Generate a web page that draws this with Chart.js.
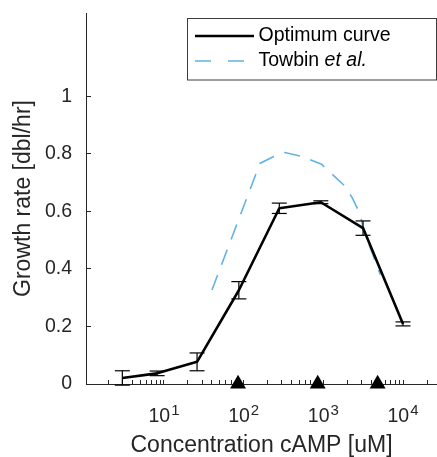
<!DOCTYPE html>
<html>
<head>
<meta charset="utf-8">
<script src="https://cdn.jsdelivr.net/npm/chart.js@4.4.1/dist/chart.umd.min.js"></script>
<style>
  html, body { margin: 0; padding: 0; background: #fff; }
  #wrap { position: relative; width: 437px; height: 457px; }
</style>
</head>
<body>
<div id="wrap"><canvas id="growthChart"></canvas></div>
<script>
/* ---------- data ---------- */
const concUM = [3, 8.2, 26, 87, 280, 930, 3150, 10000];
const growthRate = [0.021, 0.037, 0.077, 0.326, 0.611, 0.632, 0.542, 0.209];
const growthErr = [0.025, 0.008, 0.031, 0.030, 0.018, 0.005, 0.025, 0.007];

const towbinConc = [40, 160, 235, 330, 560, 950, 1800, 2300, 2900, 3200, 5200];
const towbinRate = [0.327, 0.767, 0.79, 0.805, 0.79, 0.764, 0.692, 0.648, 0.59, 0.535, 0.38];

const markerConc = [85, 850, 4800];

const yTickVals = [0, 0.2, 0.4, 0.6, 0.8, 1];
const xLabelPowers = [1, 2, 3, 4];

/* ---------- style ---------- */
const FONT = '"Liberation Sans", Arial, Helvetica, sans-serif';
const INK = "#262626";
const BLUE = "#62b2e4";
const DASH = [16, 11];
const LEGEND_DASH = [16, 17];

const pts = (xs, ys) => xs.map((x, i) => ({ x, y: ys[i] }));

/* ---------- datasets ---------- */
const errDatasets = concUM.map((x, i) => ({
  data: [
    { x, y: growthRate[i] - growthErr[i] },
    { x, y: growthRate[i] + growthErr[i] },
  ],
  borderColor: "#000", borderWidth: 1.2,
  pointStyle: "line", pointRadius: 7.5, pointHoverRadius: 7.5,
  pointBorderColor: "#000", pointBorderWidth: 1.2,
  clip: false,
}));

const datasets = [
  {
    label: "markers", data: markerConc.map((x) => ({ x, y: 0 })),
    showLine: false, pointStyle: "triangle", pointRadius: 9.2, pointHoverRadius: 9.2,
    backgroundColor: "#000", borderColor: "#000", pointBorderWidth: 0, clip: false,
  },
  {
    label: "Optimum curve", data: pts(concUM, growthRate),
    borderColor: "#000", borderWidth: 2.6, pointRadius: 0, tension: 0,
    borderJoinStyle: "round",
  },
  ...errDatasets,
  {
    label: "Towbin et al.", data: pts(towbinConc, towbinRate),
    borderColor: BLUE, borderWidth: 1.6, borderDash: DASH, pointRadius: 0, tension: 0,
  },
];

/* ---------- plugins ---------- */
// 10^n labels under the log axis, drawn with a raised exponent
const decadeLabels = {
  id: "decadeLabels",
  afterDraw(chart) {
    const { ctx } = chart;
    const x = chart.scales.x;
    ctx.save();
    ctx.fillStyle = INK;
    ctx.textAlign = "left";
    ctx.textBaseline = "alphabetic";
    xLabelPowers.forEach((p) => {
      const px = x.getPixelForValue(Math.pow(10, p));
      ctx.font = `19.5px ${FONT}`;
      const wBase = ctx.measureText("10").width;
      ctx.font = `15px ${FONT}`;
      const wExp = ctx.measureText(String(p)).width;
      const left = px - (wBase + 1 + wExp) / 2;
      ctx.font = `19.5px ${FONT}`;
      ctx.fillText("10", left, x.top + 37.5);
      ctx.font = `15px ${FONT}`;
      ctx.fillText(String(p), left + wBase + 1, x.top + 30.5);
    });
    ctx.restore();
  },
};

// boxed legend in the top right, with italic "et al."
const boxLegend = {
  id: "boxLegend",
  afterDraw(chart) {
    const { ctx, chartArea } = chart;
    const w = 249, h = 61.5;
    const bx = chartArea.right - w - 0.5;
    const by = chartArea.top + 5.5;
    ctx.save();
    ctx.fillStyle = "#fff";
    ctx.fillRect(bx, by, w, h);
    ctx.strokeStyle = "#3c3c3c";
    ctx.lineWidth = 1;
    ctx.strokeRect(bx, by, w, h);

    const lx0 = bx + 7.5, lx1 = bx + 66.5, tx = bx + 71;
    const y1 = by + 17.5, y2 = by + 42.5;

    ctx.strokeStyle = "#000";
    ctx.lineWidth = 2.6;
    ctx.beginPath(); ctx.moveTo(lx0, y1); ctx.lineTo(lx1, y1); ctx.stroke();

    ctx.strokeStyle = BLUE;
    ctx.lineWidth = 1.6;
    ctx.setLineDash(LEGEND_DASH);
    ctx.beginPath(); ctx.moveTo(lx0, y2); ctx.lineTo(lx1, y2); ctx.stroke();
    ctx.setLineDash([]);

    ctx.fillStyle = "#000";
    ctx.textBaseline = "middle";
    ctx.textAlign = "left";
    ctx.font = `19.5px ${FONT}`;
    ctx.fillText("Optimum curve", tx, y1);
    const head = "Towbin ";
    ctx.fillText(head, tx, y2);
    const wHead = ctx.measureText(head).width;
    ctx.font = `italic 19.5px ${FONT}`;
    ctx.fillText("et al.", tx + wHead, y2);
    ctx.restore();
  },
};

/* ---------- chart ---------- */
new Chart(document.getElementById("growthChart"), {
  type: "line",
  data: { datasets },
  options: {
    responsive: true, maintainAspectRatio: false, animation: false,
    layout: { autoPadding: false, padding: { top: 13, right: 0, bottom: 0, left: 0 } },
    plugins: { legend: { display: false }, tooltip: { enabled: false } },
    events: [],
    scales: {
      x: {
        type: "logarithmic", min: 1.05, max: 26700,
        afterBuildTicks: (scale) => {
          const ticks = [];
          for (let p = 0; p <= 4; p++) {
            for (let m = 1; m <= 9; m++) {
              const v = m * Math.pow(10, p);
              if (v >= scale.min && v <= scale.max) ticks.push({ value: v });
            }
          }
          scale.ticks = ticks;
        },
        afterFit: (scale) => {
          scale.height = 73;
          scale.paddingLeft = 0; scale.paddingRight = 0;
        },
        ticks: { callback: () => "", autoSkip: false, maxRotation: 0 },
        grid: {
          drawOnChartArea: false, drawTicks: true, tickLength: -4,
          tickColor: INK, tickWidth: 1,
        },
        border: { display: true, color: INK, width: 1 },
        title: {
          display: true, text: "Concentration cAMP [uM]", color: INK,
          font: { family: FONT, size: 23, lineHeight: 1 },
          padding: { top: 0, bottom: 0 },
        },
      },
      y: {
        type: "linear", min: 0, max: 1.29,
        afterBuildTicks: (scale) => { scale.ticks = yTickVals.map((v) => ({ value: v })); },
        afterFit: (scale) => {
          scale.width = 86;
          scale.paddingTop = 0; scale.paddingBottom = 0;
        },
        ticks: {
          color: INK, padding: 19, font: { family: FONT, size: 19.5 },
          callback: (v) => String(Math.round(v * 10) / 10),
        },
        grid: {
          drawOnChartArea: false, drawTicks: true, tickLength: -5,
          tickColor: INK, tickWidth: 1,
        },
        border: { display: true, color: INK, width: 1 },
        title: {
          display: true, text: "Growth rate [dbl/hr]", color: INK,
          font: { family: FONT, size: 23, lineHeight: 1 },
          padding: { top: 12, bottom: 0 },
        },
      },
    },
  },
  plugins: [decadeLabels, boxLegend],
});
</script>
</body>
</html>
